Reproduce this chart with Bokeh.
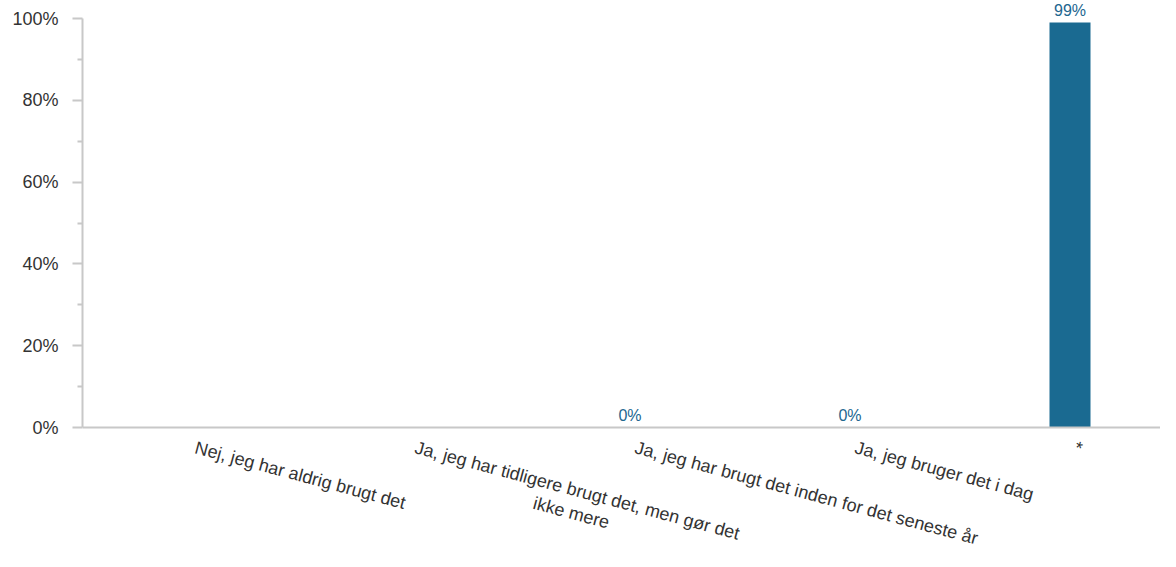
import math
from bokeh.plotting import figure
from bokeh.models import ColumnDataSource, Range1d, FixedTicker, Span
from bokeh.core.properties import value
from bokeh.embed import file_html
from bokeh.resources import INLINE

categories = [
    "Nej, jeg har aldrig brugt det",
    "Ja, jeg har tidligere brugt det, men gør det\nikke mere",
    "Ja, jeg har brugt det inden for det seneste år",
    "Ja, jeg bruger det i dag",
    "*",
]
values = [None, None, 0, 0, 99]  # percent; None = no data
y_ticks = [0, 20, 40, 60, 80, 100]
y_minor = [10, 30, 50, 70, 90]

BAR_COLOR = "#1a6a91"
LABEL_COLOR = "#22668f"
AXIS_COLOR = "#c8c8c8"
TEXT_COLOR = "#333333"
FONT = "Liberation Sans"

xs = list(range(len(categories)))
bx = [x for x, v in zip(xs, values) if v is not None]
bv = [v for v in values if v is not None]
bars = ColumnDataSource(dict(x=bx, top=bv, label=[f"{v:.0f}%" for v in bv]))
cats = ColumnDataSource(dict(x=xs, y=[0] * len(xs), label=categories))

# pixel layout: category spacing 220px, first center at 189.5px, frame left at 82px
px_per_cat = 220.0
W, H = 1160, 551
x_start = (82 - 189.5) / px_per_cat
x_end = (W - 189.5) / px_per_cat
# 0% at 427px, 100% at 18px
zero_px, hundred_px = 427, 18
ppu = (zero_px - hundred_px) / 100.0
y_end = zero_px / ppu
y_start = -(H - zero_px) / ppu

p = figure(width=W, height=H, output_backend="svg", toolbar_location=None,
           x_range=Range1d(x_start, x_end), y_range=Range1d(y_start, y_end),
           x_axis_location=None,
           min_border_left=82, min_border_right=0, min_border_top=0, min_border_bottom=0)
p.outline_line_color = None
p.xgrid.visible = False
p.ygrid.visible = False

p.vbar(x="x", top="top", width=41 / px_per_cat, bottom=0, source=bars,
       fill_color=BAR_COLOR, line_color=None)

# baseline (x axis line)
p.add_layout(Span(location=0, dimension="width", line_color=AXIS_COLOR, line_width=2))

# data labels
p.text(x="x", y="top", text="label", source=bars, text_align="center",
       text_baseline="alphabetic", y_offset=-12, text_font=value(FONT),
       text_font_size="16px", text_color=LABEL_COLOR)

# category labels, rotated 15deg clockwise
p.text(x="x", y="y", text="label", source=cats, angle=-math.radians(15),
       anchor=value("top_left"), text_align="center", text_baseline="top",
       x_offset=8, y_offset=10, text_font=value(FONT), text_font_size="18px",
       text_color=TEXT_COLOR, text_line_height=1.15)

# y axis
p.yaxis.bounds = (0, 100)
p.yaxis.ticker = FixedTicker(ticks=y_ticks, minor_ticks=y_minor)
p.yaxis.major_label_overrides = {t: f"{t}%" for t in y_ticks}
p.yaxis.axis_line_color = AXIS_COLOR
p.yaxis.axis_line_width = 2
p.yaxis.major_tick_line_color = AXIS_COLOR
p.yaxis.major_tick_line_width = 2
p.yaxis.major_tick_out = 10
p.yaxis.major_tick_in = 0
p.yaxis.minor_tick_line_color = AXIS_COLOR
p.yaxis.minor_tick_line_width = 2
p.yaxis.minor_tick_out = 5
p.yaxis.minor_tick_in = 0
p.yaxis.major_label_standoff = 14
p.yaxis.major_label_text_font = FONT
p.yaxis.major_label_text_font_size = "18px"
p.yaxis.major_label_text_color = TEXT_COLOR

open("out.html", "w").write(file_html(p, INLINE))
